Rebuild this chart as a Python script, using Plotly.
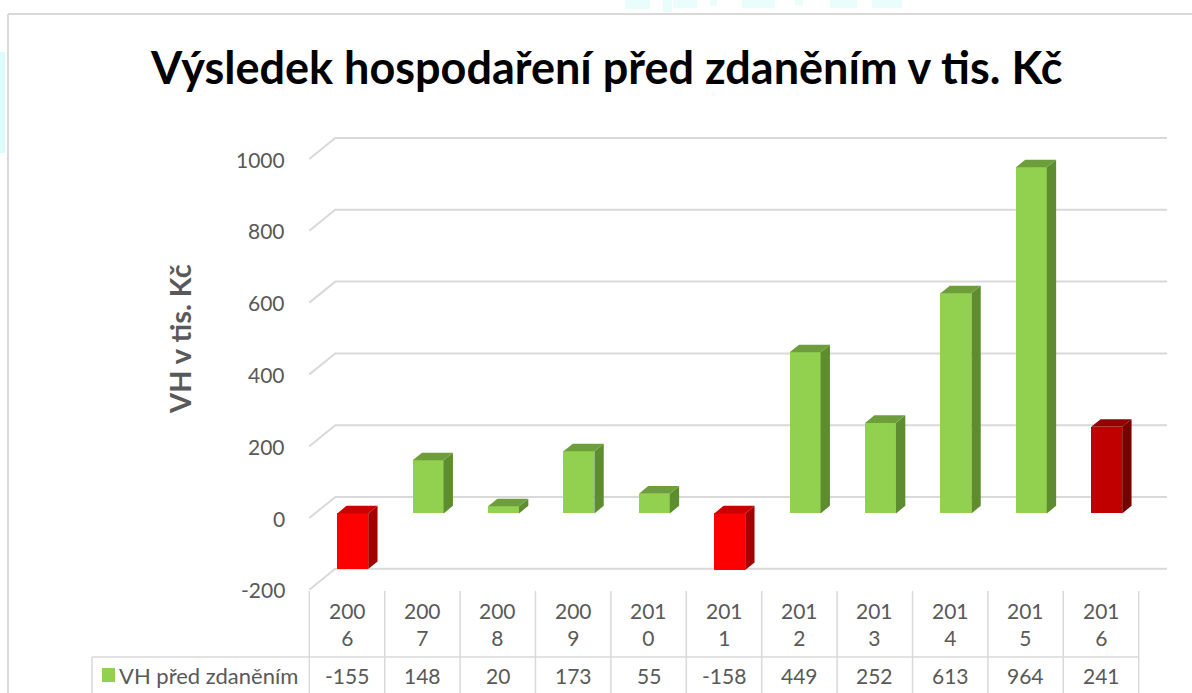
import plotly.graph_objects as go

# ---- data ----
years = ["2006", "2007", "2008", "2009", "2010", "2011", "2012", "2013", "2014", "2015", "2016"]
values = [-155, 148, 20, 173, 55, -158, 449, 252, 613, 964, 241]
series_name = "VH před zdaněním"
y_ticks = [-200, 0, 200, 400, 600, 800, 1000]
title_text = "Výsledek hospodaření před zdaněním v tis. Kč"
y_title = "VH v tis. Kč"

# ---- styles ----
W, H = 1192, 693
FONT = "Lato"
GRAY = "#595959"
GRID = "#d9d9d9"
# (front, side, top) per bar
GREEN = ("#92D050", "#5E8C31", "#6E9E3C")
RED = ("#FF0000", "#A30000", "#C80000")
DARK = ("#C00000", "#780000", "#960000")
bar_styles = [RED, GREEN, GREEN, GREEN, GREEN, RED, GREEN, GREEN, GREEN, GREEN, DARK]

# geometry of the pseudo-3D projection (front plane = axis scale)
PX0, PXU = 347.0, 75.4          # pixel of category 0, pixels per category
PY0, PYU = 518.0, 0.359         # pixel of value 0 (front), pixels per unit
DX = 26 / PXU                   # full depth shift in x units
DY = 21 / PYU                   # full depth shift in y units
D_FRONT, D_BACK = 0.22, 0.58    # bar depth positions
BAR_W = 0.41

xr = [-PX0 / PXU, (W - PX0) / PXU]
yr = [(PY0 - H) / PYU, PY0 / PYU]


def px(x):
    return x / W


def py(y):
    return 1 - y / H


fig = go.Figure()
shapes = []
annotations = []

# gridlines (below the bars): diagonal on the side wall + horizontal on the back wall
x_left = -0.5
x_right_back = (1167 - PX0) / PXU
for v in y_ticks:
    path = "M {} {} L {} {} L {} {}".format(x_left, v, x_left + DX, v + DY, x_right_back, v + DY)
    shapes.append(dict(type="path", xref="x", yref="y", path=path, layer="below",
                       line=dict(color=GRID, width=2)))

# front faces as real bars
n = len(values)
xf = [i + D_FRONT * DX for i in range(n)]
base = D_FRONT * DY
fig.add_trace(go.Bar(
    x=xf, y=values, base=[base] * n, width=BAR_W,
    marker=dict(color=[s[0] for s in bar_styles], line=dict(width=0)),
    name=series_name, showlegend=False))

# side and top faces
dd_x = (D_BACK - D_FRONT) * DX
dd_y = (D_BACK - D_FRONT) * DY
for i, v in enumerate(values):
    st = bar_styles[i]
    xl_ = xf[i] - BAR_W / 2
    xr_ = xf[i] + BAR_W / 2
    y_lo, y_hi = min(base, base + v), max(base, base + v)
    fig.add_trace(go.Scatter(
        x=[xr_, xr_, xr_ + dd_x, xr_ + dd_x, xr_],
        y=[y_lo, y_hi, y_hi + dd_y, y_lo + dd_y, y_lo],
        fill="toself", fillcolor=st[1], mode="lines", line=dict(width=0),
        hoverinfo="skip", showlegend=False))
    fig.add_trace(go.Scatter(
        x=[xl_, xr_, xr_ + dd_x, xl_ + dd_x, xl_],
        y=[y_hi, y_hi, y_hi + dd_y, y_hi + dd_y, y_hi],
        fill="toself", fillcolor=st[2], mode="lines", line=dict(width=0),
        hoverinfo="skip", showlegend=False))

# background artifacts and chart frame
cyan = "#dcfbfb"
shapes.append(dict(type="rect", xref="paper", yref="paper", x0=px(0), x1=px(5), y0=py(153), y1=py(52),
                   fillcolor=cyan, line=dict(width=0), layer="below"))
for a, b, t in [(625, 650, 9), (663, 672, 12), (673, 697, 8), (710, 717, 6), (742, 775, 8),
                (795, 803, 5), (830, 857, 8), (872, 902, 8)]:
    shapes.append(dict(type="rect", xref="paper", yref="paper", x0=px(a), x1=px(b), y0=py(t), y1=py(0),
                       fillcolor=cyan, line=dict(width=0), layer="below", opacity=0.6))
shapes.append(dict(type="line", xref="paper", yref="paper", x0=px(8), x1=px(W), y0=py(14), y1=py(14),
                   line=dict(color=GRID, width=2)))
shapes.append(dict(type="line", xref="paper", yref="paper", x0=px(8), x1=px(8), y0=py(14), y1=py(H),
                   line=dict(color=GRID, width=2)))

# data table lines
for k in range(n + 1):
    shapes.append(dict(type="line", xref="x", yref="paper", x0=k - 0.5, x1=k - 0.5,
                       y0=py(591), y1=py(H), line=dict(color=GRID, width=1.5)))
shapes.append(dict(type="line", xref="paper", yref="paper", x0=px(92), x1=px(PX0 + (n - 0.5) * PXU),
                   y0=py(657), y1=py(657), line=dict(color=GRID, width=1.5)))
shapes.append(dict(type="line", xref="paper", yref="paper", x0=px(92), x1=px(92),
                   y0=py(657), y1=py(H), line=dict(color=GRID, width=1.5)))
# legend key
shapes.append(dict(type="rect", xref="paper", yref="paper", x0=px(102), x1=px(115), y0=py(682), y1=py(668),
                   fillcolor=GREEN[0], line=dict(width=0)))

# table text
TF = dict(family=FONT, size=21, color=GRAY)
for i, (yrs, v) in enumerate(zip(years, values)):
    annotations.append(dict(x=i, xref="x", y=py(624), yref="paper", text=yrs[:3] + "<br>" + yrs[3:],
                            showarrow=False, font=TF, xanchor="center", yanchor="middle"))
    annotations.append(dict(x=i, xref="x", y=py(675), yref="paper", text=str(v),
                            showarrow=False, font=TF, xanchor="center", yanchor="middle"))
annotations.append(dict(x=px(117), xref="paper", y=py(675), yref="paper", text=series_name,
                        showarrow=False, font=dict(family=FONT, size=22, color=GRAY),
                        xanchor="left", yanchor="middle"))

# y tick labels (front plane) and axis title
for v in y_ticks:
    annotations.append(dict(x=px(287), xref="paper", y=v, yref="y", text=str(v),
                            showarrow=False, font=dict(family=FONT, size=21, color=GRAY),
                            xanchor="right", yanchor="middle"))
annotations.append(dict(x=px(179), xref="paper", y=py(339), yref="paper", text="<b>" + y_title + "</b>",
                        textangle=-90, showarrow=False, font=dict(family=FONT, size=29, color=GRAY),
                        xanchor="center", yanchor="middle"))
# title
annotations.append(dict(x=px(606), xref="paper", y=py(67), yref="paper", text="<b>" + title_text + "</b>",
                        showarrow=False, font=dict(family=FONT, size=45, color="#000000"),
                        xanchor="center", yanchor="middle"))

fig.update_layout(
    width=W, height=H, margin=dict(l=0, r=0, t=0, b=0),
    paper_bgcolor="white", plot_bgcolor="white",
    xaxis=dict(range=xr, visible=False, fixedrange=True),
    yaxis=dict(range=yr, visible=False, fixedrange=True),
    shapes=shapes, annotations=annotations,
    showlegend=False, bargap=0,
)

fig.write_html("out.html", config={"displayModeBar": False},
               post_script="document.body.style.margin='0';document.body.style.overflow='hidden';")
